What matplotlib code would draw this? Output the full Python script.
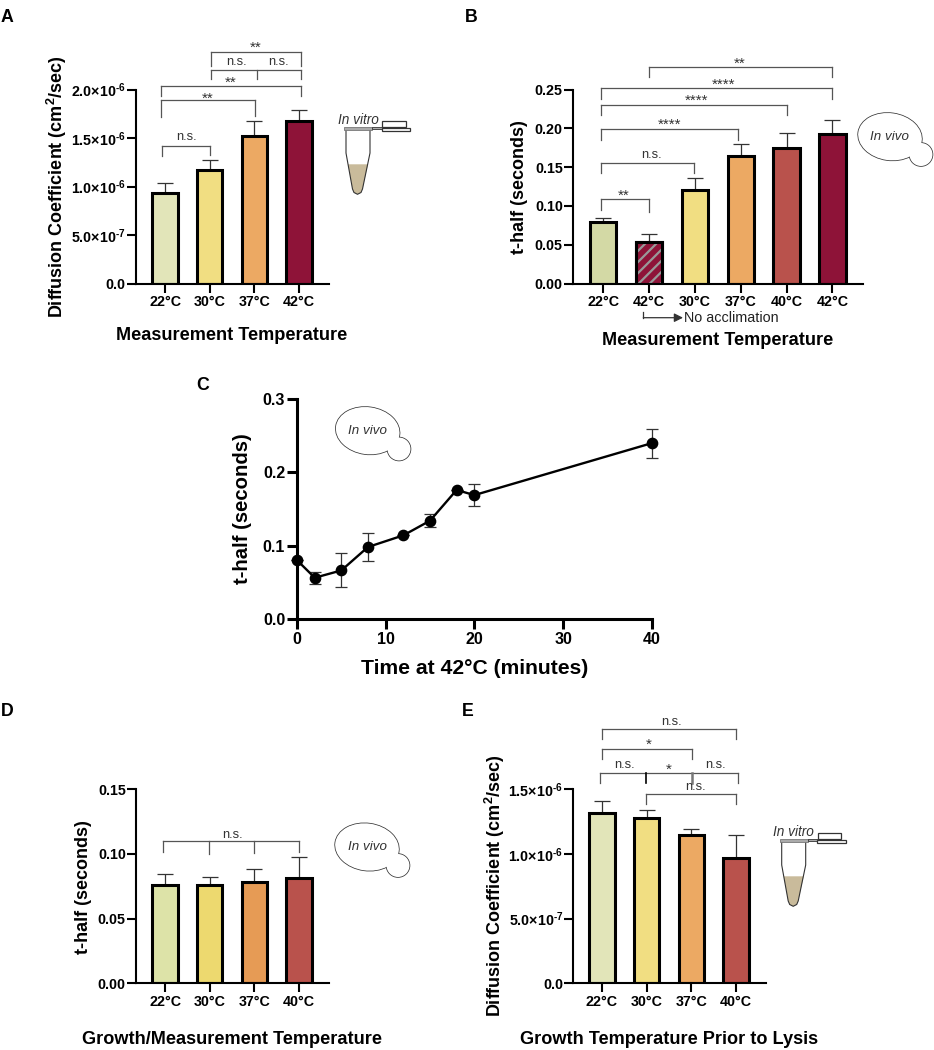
import matplotlib
matplotlib.use("Agg")
import matplotlib.pyplot as plt
from matplotlib.patches import Ellipse, Polygon, Rectangle

plt.rcParams['font.family'] = ['Liberation Sans', 'DejaVu Sans']
plt.rcParams['mathtext.fontset'] = 'custom'
plt.rcParams['mathtext.bf'] = 'Liberation Sans:bold'
plt.rcParams['mathtext.rm'] = 'Liberation Sans:bold'
plt.rcParams['hatch.linewidth'] = 1.6

W, H = 934, 1050
DARK = '#333333'
GREY = '#555555'

# panel A
a_labels = ['22°C', '30°C', '37°C', '42°C']
a_vals = [0.93e-6, 1.175e-6, 1.525e-6, 1.675e-6]
a_errs = [0.11e-6, 0.095e-6, 0.155e-6, 0.115e-6]
a_cols = ['#e2e5b9', '#f1de82', '#eca963', '#8e1338']
a_yticks = [0, 0.5e-6, 1e-6, 1.5e-6, 2e-6]
a_yticklabels = ['0.0', '5.0×10$^{\\mathbf{‐7}}$', '1.0×10$^{\\mathbf{‐6}}$',
                 '1.5×10$^{\\mathbf{‐6}}$', '2.0×10$^{\\mathbf{‐6}}$']

# panel B
b_labels = ['22°C', '42°C', '30°C', '37°C', '40°C', '42°C']
b_vals = [0.0795, 0.053, 0.12, 0.1645, 0.174, 0.193]
b_errs = [0.005, 0.011, 0.0164, 0.0155, 0.02, 0.018]
b_cols = ['#d3d9a5', '#8e1338', '#f1de82', '#eca963', '#b9524c', '#8e1338']
b_yticks = [0, 0.05, 0.10, 0.15, 0.20, 0.25]
b_yticklabels = ['0.00', '0.05', '0.10', '0.15', '0.20', '0.25']

# panel C
c_time = [0, 2, 5, 8, 12, 15, 18, 20, 40]
c_vals = [0.08, 0.056, 0.066, 0.098, 0.114, 0.134, 0.176, 0.169, 0.24]
c_low = [0.0, 0.008, 0.023, 0.019, 0.0, 0.009, 0.0, 0.015, 0.02]
c_high = [0.0, 0.008, 0.024, 0.019, 0.0, 0.009, 0.0, 0.015, 0.02]

# panel D
d_labels = ['22°C', '30°C', '37°C', '40°C']
d_vals = [0.076, 0.076, 0.078, 0.0813]
d_errs = [0.0088, 0.006, 0.0104, 0.0164]
d_cols = ['#dde3a8', '#edd96f', '#e69b55', '#b9524c']
d_yticks = [0, 0.05, 0.10, 0.15]
d_yticklabels = ['0.00', '0.05', '0.10', '0.15']

# panel E
e_labels = ['22°C', '30°C', '37°C', '40°C']
e_vals = [1.32e-6, 1.277e-6, 1.145e-6, 0.965e-6]
e_errs = [0.087e-6, 0.063e-6, 0.045e-6, 0.182e-6]
e_cols = ['#e2e5b9', '#f1de82', '#eca963', '#b9524c']
e_yticks = [0, 0.5e-6, 1e-6, 1.5e-6]
e_yticklabels = ['0.0', '5.0×10$^{\\mathbf{‐7}}$', '1.0×10$^{\\mathbf{‐6}}$',
                 '1.5×10$^{\\mathbf{‐6}}$']

DIFF_LABEL = 'Diffusion Coefficient (cm$^{\\mathbf{2}}$/sec)'

fig = plt.figure(figsize=(W / 100, H / 100), dpi=100)

# overlay in image pixels, for brackets, icons and panel letters
over = fig.add_axes([0, 0, 1, 1], zorder=10)
over.set_xlim(0, W)
over.set_ylim(H, 0)
over.axis('off')
over.patch.set_alpha(0)


def make_axes(left, right, top, bottom, lw=1.5, tick_w=1.5, tick_l=6.3):
    ax = fig.add_axes([left / W, 1 - bottom / H, (right - left) / W, (bottom - top) / H])
    ax.spines['top'].set_visible(False)
    ax.spines['right'].set_visible(False)
    ax.spines['left'].set_linewidth(lw)
    ax.spines['bottom'].set_linewidth(lw)
    ax.tick_params(width=tick_w, length=tick_l)
    return ax


def bar_panel(box, x0, step, labels, vals, errs, cols, yticks, yticklabels, ylabel, xlabel,
              ylab_pos, xlab_pos, bar_w=0.566, ylab_size=13.0):
    left, right, top, bottom = box
    ax = make_axes(left, right, top, bottom)
    xs = list(range(len(labels)))
    ax.errorbar(xs, vals, yerr=[[0] * len(vals), errs], fmt='none', ecolor=DARK,
                elinewidth=0.9, capsize=5.5, capthick=0.9, zorder=1)
    ax.bar(xs, vals, width=bar_w, color=cols, edgecolor='black', linewidth=2.2, zorder=2)
    ax.set_xlim((left - x0) / step, (right - x0) / step)
    ax.set_ylim(yticks[0], yticks[-1])
    ax.set_xticks(xs)
    ax.set_xticklabels(labels, fontsize=10.3, fontweight='bold')
    ax.set_yticks(yticks)
    ax.set_yticklabels(yticklabels, fontsize=10.3, fontweight='bold')
    ax.tick_params(axis='x', pad=2)
    ax.tick_params(axis='y', pad=1)
    ax.set_ylabel(ylabel, fontsize=ylab_size, fontweight='bold', va='center', ha='center')
    ax.set_xlabel(xlabel, fontsize=13.1, fontweight='bold', va='center', ha='center')
    ax.yaxis.set_label_coords(ylab_pos[0], ylab_pos[1], transform=over.transData)
    ax.xaxis.set_label_coords(xlab_pos[0], xlab_pos[1], transform=over.transData)
    return ax


def bracket(legs, top, bottoms):
    # legs: x of each leg in pixels, bottoms: lower end of each leg
    over.plot([legs[0], legs[-1]], [top, top], color=GREY, lw=0.9, solid_capstyle='projecting')
    for x, b in zip(legs, bottoms):
        over.plot([x, x], [top, b], color=GREY, lw=0.9)


def sig(x, y, s):
    if '*' in s:
        over.text(x, y + 1.5, s, ha='center', va='center', fontsize=11, color=DARK)
    else:
        over.text(x, y, s, ha='center', va='center', fontsize=9.3, color=DARK)


def yeast(cx, cy, bx, by, tx):
    # outlines first, then white fills on top so only the union outline is left
    for fill in (False, True):
        kw = dict(facecolor='white', edgecolor='none', zorder=6) if fill else \
            dict(facecolor='white', edgecolor=DARK, lw=1.1, zorder=5)
        over.add_patch(Ellipse((cx, cy), 64, 47, angle=8, **kw))
        over.add_patch(Ellipse((bx, by), 23, 23, **kw))
    over.text(tx, cy, 'In vivo', style='italic', fontsize=9.6, color=DARK,
              ha='center', va='center', zorder=7)


def tube(dx, dy):
    over.text(358 + dx, 120 + dy, 'In vitro', style='italic', fontsize=9.8, color=DARK,
              ha='center', va='center')
    outline = [(346, 130), (346, 153), (352.5, 189), (354, 192.5), (357.5, 194.3),
               (361, 192.5), (362.5, 189), (370, 153), (370, 130)]
    liquid = [(348, 164.3), (352.5, 189), (354, 192.5), (357.5, 194.3),
              (361, 192.5), (362.5, 189), (368, 164.3)]
    over.add_patch(Polygon([(x + dx, y + dy) for x, y in liquid], closed=True,
                           facecolor='#c9bb9b', edgecolor='none'))
    over.add_patch(Polygon([(x + dx, y + dy) for x, y in outline], closed=False,
                           facecolor='none', edgecolor=DARK, lw=0.8))
    over.add_patch(Rectangle((344 + dx, 126.8 + dy), 28, 3, facecolor='#aaaaaa', edgecolor='#777777', lw=0.6))
    over.add_patch(Rectangle((372 + dx, 127.3 + dy), 10, 2, facecolor='#aaaaaa', edgecolor=DARK, lw=0.6))
    over.add_patch(Rectangle((382 + dx, 120.7 + dy), 23.7, 6.6, facecolor='white', edgecolor=DARK, lw=0.9))
    over.add_patch(Rectangle((381.7 + dx, 127.7 + dy), 28.3, 3.6, facecolor='white', edgecolor=DARK, lw=0.9))


# A
bar_panel((136, 329, 89.5, 283.5), 165, 44.67, a_labels, a_vals, a_errs, a_cols, a_yticks,
          a_yticklabels, DIFF_LABEL, 'Measurement Temperature', (57, 186.7), (232, 336))
bracket([162, 209.7], 145.7, [155.7, 154.5])
sig(186.7, 137, 'n.s.')
bracket([161.3, 254.7], 100.3, [116.7, 115.5])
sig(208, 97, '**')
bracket([161.3, 301.3], 85.7, [95.7, 95.7])
sig(230.7, 81, '**')
bracket([211.3, 256.7, 301.3], 70, [79, 79, 79])
sig(236, 62, 'n.s.')
sig(278.7, 62, 'n.s.')
bracket([211.3, 301.3], 51.7, [65.7, 65.7])
sig(256, 46.7, '**')
tube(0, 0)

# B
ax_b = bar_panel((573, 862.7, 89.5, 283.5), 603, 45.9, b_labels, b_vals, b_errs, b_cols, b_yticks,
                 b_yticklabels, 't-half (seconds)', 'Measurement Temperature', (520, 186.7), (718, 340.7),
                 bar_w=0.573)
# striped bar: grey stripes on maroon, black frame drawn again on top
ax_b.bar([1], [b_vals[1]], width=0.573, facecolor='#8e1338', edgecolor='#999999', hatch='///',
         linewidth=0, zorder=2.1)
ax_b.bar([1], [b_vals[1]], width=0.573, facecolor='none', edgecolor='black', linewidth=2.2, zorder=2.2)
bracket([601, 649], 199.3, [210, 212.3])
sig(623.3, 194.7, '**')
bracket([601, 694], 163.3, [173.3, 173.3])
sig(651.7, 155.3, 'n.s.')
bracket([601, 738.3], 129.3, [140, 140])
sig(670, 123.3, '****')
bracket([601, 786.7], 105.3, [115.3, 115.3])
sig(696.7, 99.7, '****')
bracket([601, 832.3], 88.3, [98.7, 98.7])
sig(723.3, 83.7, '****')
bracket([649, 832.3], 66.7, [77, 77])
sig(740, 62, '**')
yeast(890, 136.7, 921, 154.5, 890)
over.annotate('', xy=(683, 317.7), xytext=(643.3, 317.7),
              arrowprops=dict(arrowstyle='-|>', color=DARK, lw=0.9, shrinkA=0, shrinkB=0, mutation_scale=13))
over.plot([643.3, 643.3], [311.7, 317.7], color=DARK, lw=0.9)
over.text(684, 318, 'No acclimation', fontsize=10.4, color='#222222', ha='left', va='center')

# C
ax_c = make_axes(297, 651.7, 399.3, 618.7, lw=2.2, tick_w=2.2, tick_l=7.5)
ax_c.errorbar(c_time, c_vals, yerr=[c_low, c_high], color='black', lw=1.7, marker='o', ms=7.4,
              ecolor=DARK, elinewidth=0.9, capsize=4, capthick=0.9, clip_on=False, zorder=3)
ax_c.set_xlim(0, 40)
ax_c.set_ylim(0, 0.3)
ax_c.set_xticks([0, 10, 20, 30, 40])
ax_c.set_yticks([0, 0.1, 0.2, 0.3])
ax_c.set_xticklabels(['0', '10', '20', '30', '40'], fontsize=11.5, fontweight='bold')
ax_c.set_yticklabels(['0.0', '0.1', '0.2', '0.3'], fontsize=11.5, fontweight='bold')
ax_c.tick_params(axis='x', pad=2)
ax_c.tick_params(axis='y', pad=1)
ax_c.set_ylabel('t-half (seconds)', fontsize=14.6, fontweight='bold', va='center', ha='center')
ax_c.set_xlabel('Time at 42°C (minutes)', fontsize=15.2, fontweight='bold', va='center', ha='center')
ax_c.yaxis.set_label_coords(243, 509, transform=over.transData)
ax_c.xaxis.set_label_coords(474.5, 669, transform=over.transData)
yeast(367.7, 430.7, 399, 449, 367)

# D
bar_panel((136, 329, 789.3, 983.3), 165, 44.67, d_labels, d_vals, d_errs, d_cols, d_yticks,
          d_yticklabels, 't-half (seconds)', 'Growth/Measurement Temperature', (83, 887), (232, 1039))
bracket([163, 208.7, 254.3, 299.3], 841, [851.7, 854.3, 853, 852])
sig(232.7, 835, 'n.s.')
yeast(367, 847, 398, 865.5, 367)

# E
bar_panel((573.3, 765.7, 789.3, 983.3), 602, 44.67, e_labels, e_vals, e_errs, e_cols, e_yticks,
          e_yticklabels, DIFF_LABEL, 'Growth Temperature Prior to Lysis', (495, 886), (669, 1039))
bracket([602, 736.3], 729.3, [739.3, 739.3])
sig(671.7, 721.7, 'n.s.')
bracket([602, 691.7], 748.7, [759, 759])
sig(649, 743, '*')
bracket([599.7, 737.7], 773.3, [783.3, 783.3])
over.plot([645.7, 645.7], [773.3, 783.3], color='black', lw=1.2)
over.plot([691.7, 691.7], [773.3, 783.3], color='#777777', lw=1.8)
sig(624.3, 765, 'n.s.')
sig(668.3, 768, '*')
sig(715.7, 765, 'n.s.')
bracket([646, 736.3], 794.3, [804.3, 804.3])
sig(695, 786.7, 'n.s.')
tube(435.7, 712)

# panel letters
for letter, x, y in [('A', 1, 18), ('B', 465, 18), ('C', 196, 385), ('D', 1, 712), ('E', 462, 712)]:
    over.text(x, y, letter, fontsize=12.8, fontweight='bold', ha='left', va='center')

fig.savefig('out.png', dpi=100)
